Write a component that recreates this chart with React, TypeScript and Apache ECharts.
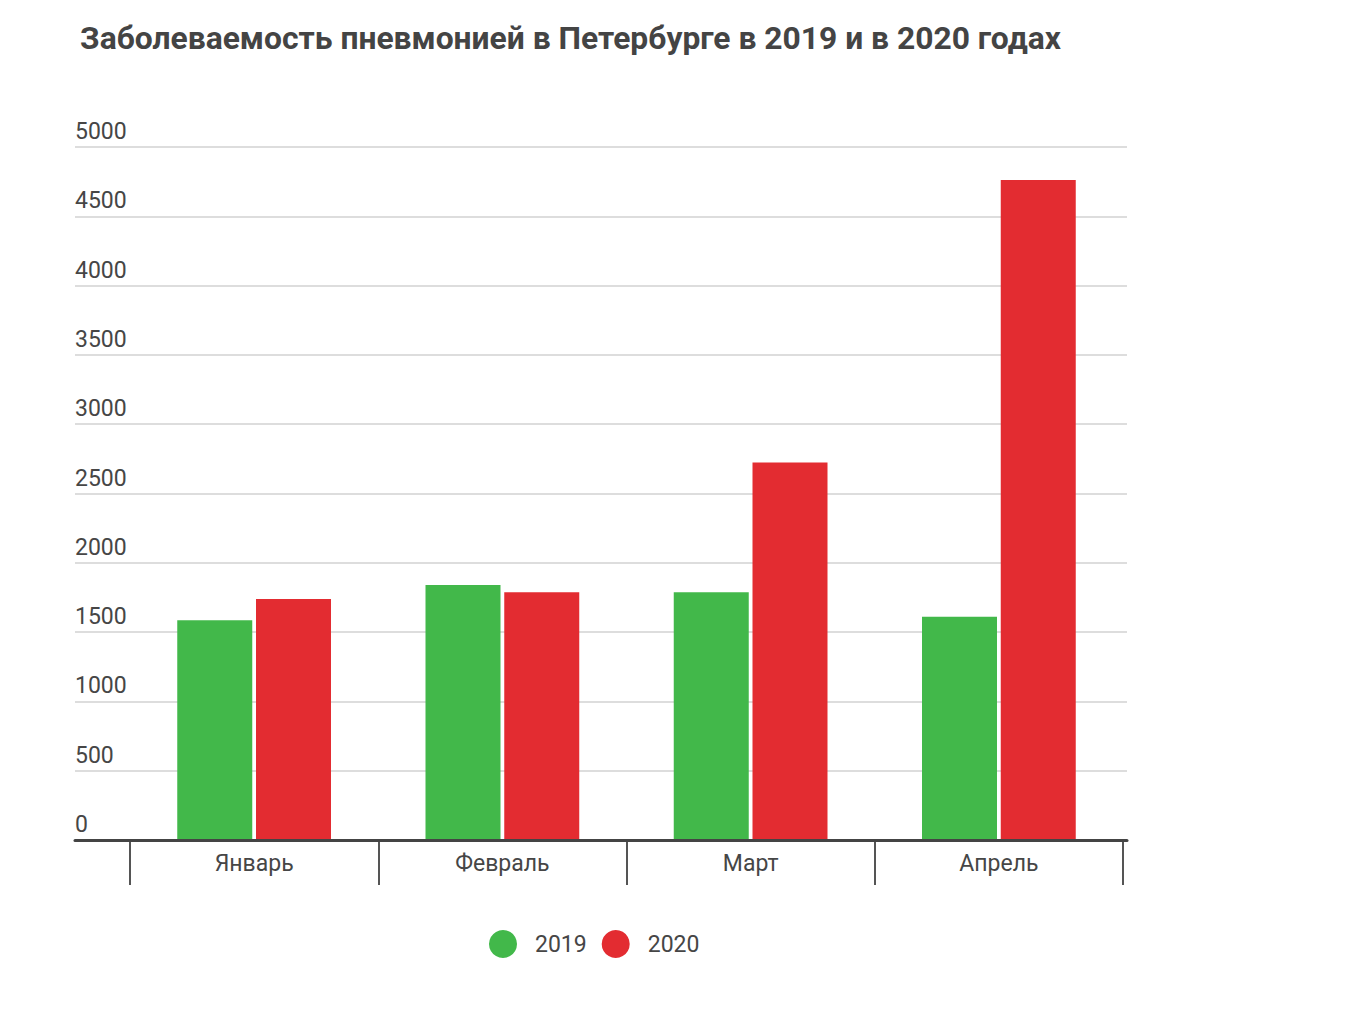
import React, { useEffect, useRef } from "react";
import * as echarts from "echarts";

const title = "Заболеваемость пневмонией в Петербурге в 2019 и в 2020 годах";
const months = ["Январь", "Февраль", "Март", "Апрель"];
const seriesNames = ["2019", "2020"];
const values2019 = [1585, 1840, 1787, 1611];
const values2020 = [1739, 1787, 2724, 4762];
const yMin = 0;
const yMax = 5000;
const yStep = 500;
const colors = ["#42b84a", "#e32c31"];

const FONT = "Roboto";
const TEXT = "#464646";

export default function App() {
  const ref = useRef<HTMLDivElement>(null);
  useEffect(() => {
    if (!ref.current) return;
    const chart = echarts.init(ref.current, undefined, { renderer: "svg" });
    chart.setOption({
      animation: false,
      backgroundColor: "#ffffff",
      textStyle: { fontFamily: FONT },
      title: {
        text: title,
        left: 75,
        top: 17,
        textStyle: { fontFamily: FONT, fontSize: 31.8, fontWeight: "bold", color: "#444444" },
      },
      legend: {
        data: seriesNames,
        icon: "circle",
        itemWidth: 28,
        itemHeight: 28,
        itemGap: 15,
        left: 484,
        top: 925,
        textStyle: { fontFamily: FONT, fontSize: 23, color: TEXT, padding: [0, 0, 0, 13] },
      },
      grid: [
        { left: 75, top: 147, width: 1052, height: 693 },
        { left: 130, top: 147, width: 993, height: 693 },
      ],
      xAxis: [
        {
          gridIndex: 0,
          type: "category",
          data: [""],
          z: 5,
          axisLine: { show: true, lineStyle: { color: "#444444", width: 3 } },
          axisTick: { show: false },
          axisLabel: { show: false },
          splitLine: { show: false },
        },
        {
          gridIndex: 1,
          type: "category",
          data: months,
          boundaryGap: true,
          axisLine: { show: false },
          axisTick: { show: true, interval: 0, length: 45, lineStyle: { color: "#555555", width: 2 } },
          axisLabel: { interval: 0, margin: 12, fontFamily: FONT, fontSize: 23, color: TEXT },
          splitLine: { show: false },
        },
      ],
      yAxis: [
        {
          gridIndex: 0,
          type: "value",
          min: yMin,
          max: yMax,
          interval: yStep,
          axisLine: { show: false },
          axisTick: { show: false },
          splitLine: { show: true, lineStyle: { color: "#dddddd", width: 2 } },
          axisLabel: {
            inside: true,
            margin: 0,
            align: "left",
            verticalAlign: "bottom",
            padding: [0, 0, 4, 0],
            fontFamily: FONT,
            fontSize: 23,
            color: TEXT,
            formatter: (v: number) => String(v),
          },
        },
        {
          gridIndex: 1,
          type: "value",
          min: yMin,
          max: yMax,
          interval: yStep,
          show: false,
          splitLine: { show: false },
        },
      ],
      series: [
        {
          name: seriesNames[0],
          type: "bar",
          xAxisIndex: 1,
          yAxisIndex: 1,
          data: values2019,
          barWidth: 75,
          barGap: "5%",
          itemStyle: { color: colors[0] },
        },
        {
          name: seriesNames[1],
          type: "bar",
          xAxisIndex: 1,
          yAxisIndex: 1,
          data: values2020,
          barWidth: 75,
          barGap: "5%",
          itemStyle: { color: colors[1] },
        },
      ],
    });
    return () => chart.dispose();
  }, []);
  return (
    <div
      ref={ref}
      style={{ position: "absolute", left: 0, top: 0, width: 1361, height: 1024 }}
    />
  );
}
